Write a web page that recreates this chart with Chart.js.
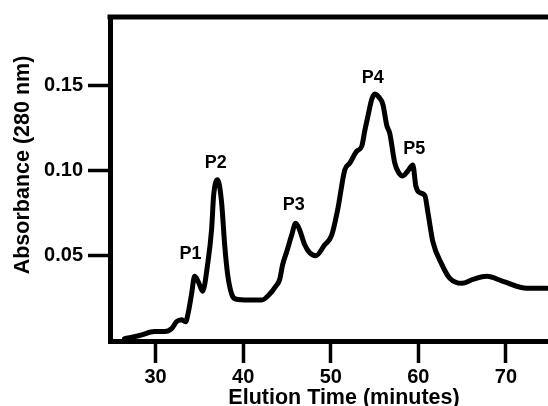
<!DOCTYPE html>
<html><head><meta charset="utf-8">
<script src="https://cdn.jsdelivr.net/npm/chart.js@4/dist/chart.umd.min.js"></script>
<style>html,body{margin:0;padding:0;background:#fff}#wrap{width:548px;height:406px}</style>
</head><body><div id="wrap"><canvas id="c" width="548" height="406"></canvas></div>
<script>
const elutionTime = [26.46,28.17,29.89,31.03,31.83,32.4,32.97,33.43,33.77,34.11,34.46,34.91,35.37,35.94,36.4,36.63,37.09,37.54,37.89,38.23,38.69,39.14,40.6,42.11,43.03,43.71,44.17,44.51,44.97,45.54,46.0,46.46,47.03,47.6,48.29,49.31,50.11,50.8,51.6,52.17,52.97,53.54,53.89,54.23,54.69,55.03,55.49,55.94,56.4,56.74,57.31,57.77,58.23,58.8,59.37,59.71,60.17,60.74,61.09,61.66,62.69,63.6,64.97,66.23,67.83,69.66,72.4,74.69];
const absorbance = [0.0014,0.0032,0.0055,0.0055,0.0072,0.0113,0.0124,0.0113,0.0176,0.0275,0.0379,0.0344,0.0292,0.0448,0.0656,0.0853,0.0945,0.0812,0.0564,0.0390,0.0275,0.0246,0.0240,0.0240,0.0275,0.0321,0.0361,0.0448,0.0523,0.0621,0.0691,0.0650,0.0564,0.0517,0.0500,0.0564,0.0621,0.0772,0.1003,0.1043,0.1113,0.1142,0.1234,0.1315,0.1419,0.1448,0.1430,0.1390,0.1263,0.1217,0.1043,0.0986,0.0968,0.0997,0.1032,0.0910,0.0870,0.0853,0.0754,0.0581,0.0448,0.0367,0.0338,0.0361,0.0379,0.0350,0.0309,0.0309];
const xTicks = [30,40,50,60,70];
const yTicks = [0.05,0.10,0.15];
const peakNames = ['P1','P2','P3','P4','P5'];
const peakLabelX = [33.99,36.86,45.77,54.8,59.54];
const peakLabelY = [0.0511,0.1043,0.0795,0.154,0.1124];
const xTitle = 'Elution Time (minutes)';
const yTitle = 'Absorbance (280 nm)';

const FONT = '"Liberation Sans", Arial, Helvetica, sans-serif';

const annot = {
  id: 'annot',
  afterDraw(chart) {
    const {ctx, chartArea, scales} = chart;
    ctx.save();
    // top frame line
    ctx.strokeStyle = '#000';
    ctx.lineWidth = 5;
    ctx.beginPath();
    ctx.moveTo(chartArea.left - 2.5, chartArea.top);
    ctx.lineTo(chart.width, chartArea.top);
    ctx.stroke();
    // peak labels
    ctx.fillStyle = '#000';
    ctx.font = 'bold 18px ' + FONT;
    ctx.textAlign = 'center';
    ctx.textBaseline = 'middle';
    peakNames.forEach((n, i) => {
      ctx.fillText(n, scales.x.getPixelForValue(peakLabelX[i]), scales.y.getPixelForValue(peakLabelY[i]));
    });
    // axis titles
    ctx.font = 'bold 21.5px ' + FONT;
    ctx.textBaseline = 'alphabetic';
    ctx.fillText(xTitle, 344, 404);
    ctx.translate(29, 165);
    ctx.rotate(-Math.PI / 2);
    ctx.fillText(yTitle, 0, 0);
    ctx.restore();
  }
};

new Chart(document.getElementById('c'), {
  type: 'line',
  data: {
    datasets: [{
      data: elutionTime.map((x, i) => ({x, y: absorbance[i]})),
      borderColor: '#000',
      borderWidth: 5,
      pointRadius: 0,
      fill: false,
      borderJoinStyle: 'round',
      borderCapStyle: 'round',
      cubicInterpolationMode: 'monotone'
    }]
  },
  options: {
    responsive: false,
    animation: false,
    devicePixelRatio: 1,
    layout: {padding: {top: 12, left: 0, right: 0, bottom: 0}},
    plugins: {legend: {display: false}, tooltip: {enabled: false}},
    scales: {
      x: {
        type: 'linear', position: 'bottom', min: 24.8, max: 74.8,
        afterBuildTicks: s => { s.ticks = xTicks.map(v => ({value: v})); },
        afterFit: s => { s.height = 65; },
        ticks: {font: {family: FONT, size: 20, weight: 'bold'}, color: '#000', padding: 2, autoSkip: false, maxRotation: 0},
        grid: {drawOnChartArea: false, drawTicks: true, tickLength: 22, tickWidth: 3.5, tickColor: '#000'},
        border: {display: true, width: 5, color: '#000'}
      },
      y: {
        type: 'linear', min: 0, max: 0.19,
        afterBuildTicks: s => { s.ticks = yTicks.map(v => ({value: v})); },
        afterFit: s => { s.width = 110; },
        ticks: {font: {family: FONT, size: 20, weight: 'bold'}, color: '#000', padding: 5, callback: v => v.toFixed(2)},
        grid: {drawOnChartArea: false, drawTicks: true, tickLength: 22, tickWidth: 3.5, tickColor: '#000'},
        border: {display: true, width: 5, color: '#000'}
      }
    }
  },
  plugins: [annot]
});
</script></body></html>
